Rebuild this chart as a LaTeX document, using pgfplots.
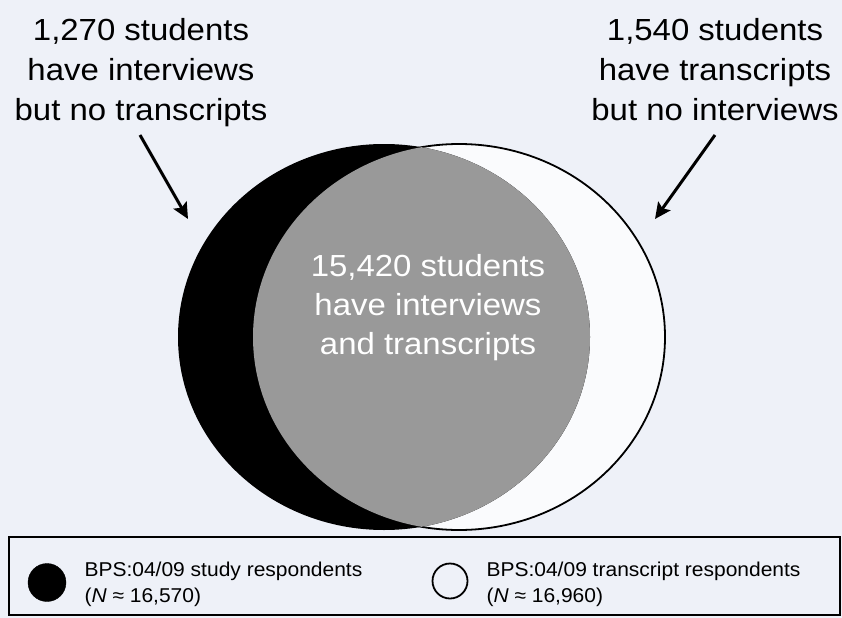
\documentclass[border=0pt]{standalone}
\usepackage{pgfplots}
\pgfplotsset{compat=1.18}
\usepackage{fontspec}
\setmainfont{Liberation Sans}[FakeStretch=1.08]
\newfontfamily\legfont{Liberation Sans}[FakeStretch=1.05]
\usetikzlibrary{arrows.meta}
\definecolor{bg}{RGB}{238,241,248}
\definecolor{wfill}{RGB}{250,251,253}
\definecolor{gfill}{RGB}{153,153,153}
\begin{document}
\begin{tikzpicture}
\begin{axis}[width=842bp,height=618bp,scale only axis,
  xmin=0,xmax=842,ymin=0,ymax=618,y dir=reverse,hide axis,clip=false]
\fill[bg] (axis cs:0,0) rectangle (axis cs:842,618);
\coordinate (BL) at (axis cs:0,618);
\coordinate (TR) at (axis cs:842,0);
% transcript respondents (white) and study respondents (black)
\filldraw[fill=wfill, draw=black, line width=1.8bp] (axis cs:459,337) ellipse [x radius=206bp, y radius=193bp];
\fill[black] (axis cs:384,337) ellipse [x radius=206bp, y radius=193bp];
\begin{scope}
\clip (axis cs:459,337) ellipse [x radius=206bp, y radius=193bp];
\fill[gfill] (axis cs:384,337) ellipse [x radius=206bp, y radius=193bp];
\end{scope}
% labels
\node[anchor=base, font=\fontsize{30.5bp}{36bp}\selectfont] at (axis cs:141,41) {1,270 students};
\node[anchor=base, font=\fontsize{30.5bp}{36bp}\selectfont] at (axis cs:141,81) {have interviews};
\node[anchor=base, font=\fontsize{30.5bp}{36bp}\selectfont] at (axis cs:141,120) {but no transcripts};
\node[anchor=base, font=\fontsize{30.5bp}{36bp}\selectfont] at (axis cs:715,41) {1,540 students};
\node[anchor=base, font=\fontsize{30.5bp}{36bp}\selectfont] at (axis cs:715,81) {have transcripts};
\node[anchor=base, font=\fontsize{30.5bp}{36bp}\selectfont] at (axis cs:715,120) {but no interviews};
\node[anchor=base, text=white, font=\fontsize{30.5bp}{36bp}\selectfont] at (axis cs:428,276) {15,420 students};
\node[anchor=base, text=white, font=\fontsize{30.5bp}{36bp}\selectfont] at (axis cs:428,315) {have interviews};
\node[anchor=base, text=white, font=\fontsize{30.5bp}{36bp}\selectfont] at (axis cs:428,354) {and transcripts};
% arrows
\draw[line width=3bp, -{Stealth[length=16bp,width=15bp,inset=3bp]}] (axis cs:140,135) -- (axis cs:188,219);
\draw[line width=3bp, -{Stealth[length=16bp,width=15bp,inset=3bp]}] (axis cs:715,135) -- (axis cs:655,219);
% legend
\draw[line width=2bp] (axis cs:9,537) rectangle (axis cs:840,615);
\addplot[only marks, mark=*, mark size=19bp, mark options={fill=black, draw=black}] coordinates {(47,582.5)};
\addplot[only marks, mark=*, mark size=17.5bp, mark options={fill=bg, draw=black, line width=1.8bp}] coordinates {(450,581)};
\node[anchor=base west, font=\legfont\fontsize{20bp}{24bp}\selectfont] at (axis cs:81,576) {BPS:04/09 study respondents};
\node[anchor=base west, font=\legfont\fontsize{20bp}{24bp}\selectfont] at (axis cs:81,602) {(\textit{N} ≈ 16,570)};
\node[anchor=base west, font=\legfont\fontsize{20bp}{24bp}\selectfont] at (axis cs:483,576) {BPS:04/09 transcript respondents};
\node[anchor=base west, font=\legfont\fontsize{20bp}{24bp}\selectfont] at (axis cs:483,602) {(\textit{N} ≈ 16,960)};
\end{axis}
\pgfresetboundingbox
\path (BL) rectangle (TR);
\end{tikzpicture}
\end{document}
